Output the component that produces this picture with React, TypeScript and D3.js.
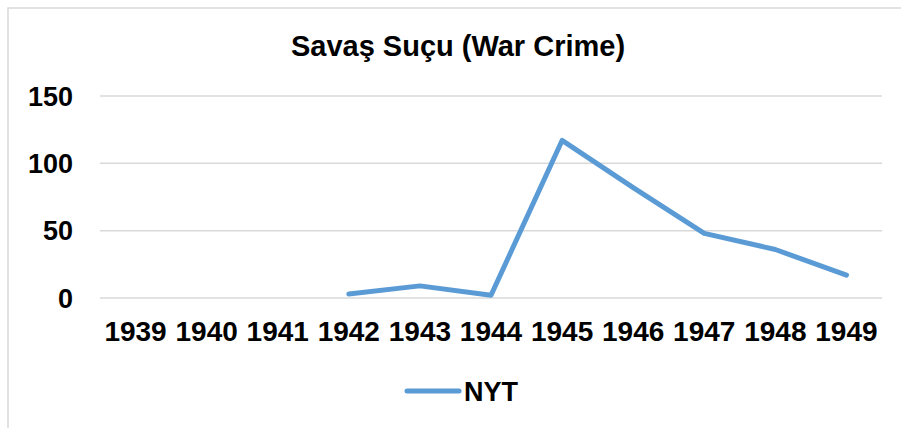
import React from "react";
import * as d3 from "d3";

const years = ["1939", "1940", "1941", "1942", "1943", "1944", "1945", "1946", "1947", "1948", "1949"];
const nytValues: (number | null)[] = [null, null, null, 3, 9, 2, 117, 82, 48, 36, 17];
const yTicks = [0, 50, 100, 150];
const title = "Savaş Suçu (War Crime)";
const seriesName = "NYT";

const W = 901;
const H = 428;
const plot = { left: 100, right: 882, top: 96, bottom: 298 };
const font = "'Liberation Sans', Arial, sans-serif";
const blue = "#5B9BD5";

export default function App() {
  const x = d3.scaleBand<string>().domain(years).range([plot.left, plot.right]);
  const y = d3.scaleLinear().domain([0, 150]).range([plot.bottom, plot.top]);
  const pts = years.map((yr, i) => ({ yr, v: nytValues[i] }));
  const line = d3
    .line<{ yr: string; v: number | null }>()
    .defined((d) => d.v !== null)
    .x((d) => (x(d.yr) as number) + x.bandwidth() / 2)
    .y((d) => y(d.v as number));

  return (
    <svg
      width={W}
      height={H}
      style={{ position: "absolute", left: 0, top: 0, background: "#fff" }}
      fontFamily={font}
    >
      <rect x={8} y={8} width={W} height={H} fill="#fff" stroke="#d9d9d9" strokeWidth={1.5} />
      <text x={458} y={56} textAnchor="middle" fontSize={29} fontWeight="bold" fill="#000">
        {title}
      </text>
      {yTicks.map((t) => (
        <g key={t}>
          <line x1={plot.left} x2={plot.right} y1={y(t)} y2={y(t)} stroke="#d9d9d9" strokeWidth={1.5} />
          <text x={73} y={y(t)} dy="0.36em" textAnchor="end" fontSize={27} fontWeight="bold" fill="#000">
            {t}
          </text>
        </g>
      ))}
      {years.map((yr) => (
        <text
          key={yr}
          x={(x(yr) as number) + x.bandwidth() / 2}
          y={341}
          textAnchor="middle"
          fontSize={28}
          fontWeight="bold"
          fill="#000"
        >
          {yr}
        </text>
      ))}
      <path d={line(pts) || ""} fill="none" stroke={blue} strokeWidth={5} strokeLinejoin="round" strokeLinecap="round" />
      <line x1={407} x2={459} y1={391} y2={391} stroke={blue} strokeWidth={5} strokeLinecap="round" />
      <text x={464} y={401} fontSize={27} fontWeight="bold" fill="#000">
        {seriesName}
      </text>
    </svg>
  );
}
